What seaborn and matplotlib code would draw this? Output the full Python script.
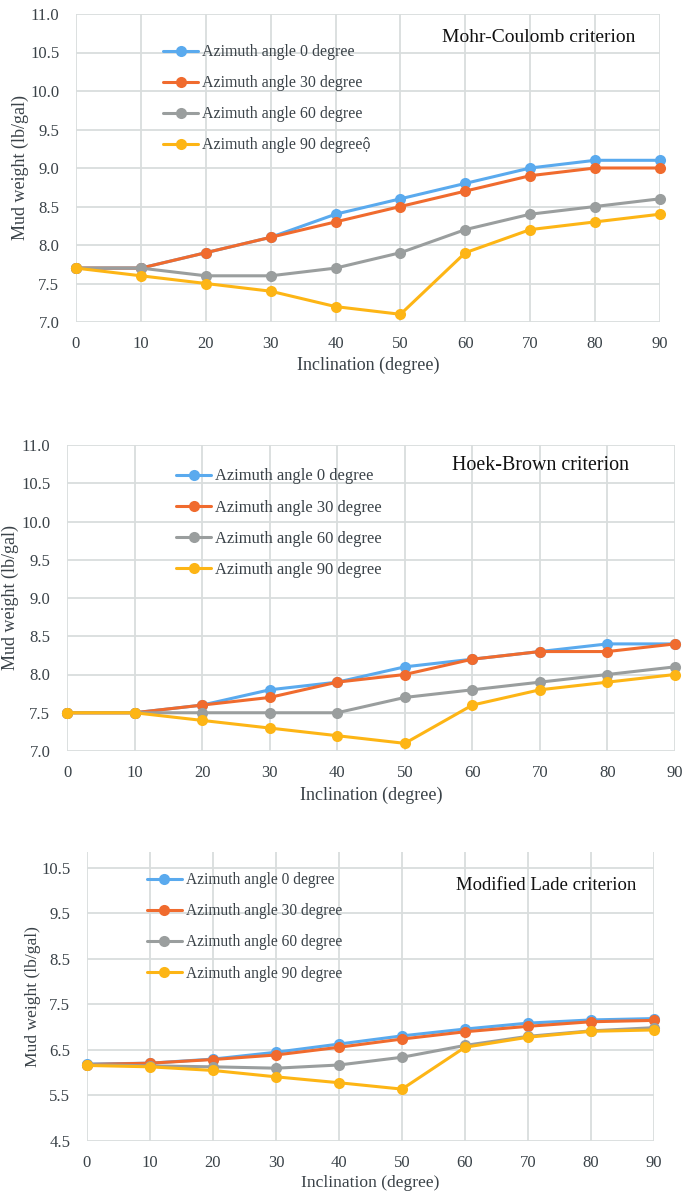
import numpy as np
import pandas as pd
import matplotlib
matplotlib.use("Agg")
import matplotlib.pyplot as plt
import seaborn as sns

# ---------------- DATA ----------------
inclination = [0, 10, 20, 30, 40, 50, 60, 70, 80, 90]
series_names = ["Azimuth angle 0 degree", "Azimuth angle 30 degree",
                "Azimuth angle 60 degree", "Azimuth angle 90 degree"]

# Mohr-Coulomb
mc_az0 = [7.7, 7.7, 7.9, 8.1, 8.4, 8.6, 8.8, 9.0, 9.1, 9.1]
mc_az30 = [7.7, 7.7, 7.9, 8.1, 8.3, 8.5, 8.7, 8.9, 9.0, 9.0]
mc_az60 = [7.7, 7.7, 7.6, 7.6, 7.7, 7.9, 8.2, 8.4, 8.5, 8.6]
mc_az90 = [7.7, 7.6, 7.5, 7.4, 7.2, 7.1, 7.9, 8.2, 8.3, 8.4]

# Hoek-Brown
hb_az0 = [7.5, 7.5, 7.6, 7.8, 7.9, 8.1, 8.2, 8.3, 8.4, 8.4]
hb_az30 = [7.5, 7.5, 7.6, 7.7, 7.9, 8.0, 8.2, 8.3, 8.3, 8.4]
hb_az60 = [7.5, 7.5, 7.5, 7.5, 7.5, 7.7, 7.8, 7.9, 8.0, 8.1]
hb_az90 = [7.5, 7.5, 7.4, 7.3, 7.2, 7.1, 7.6, 7.8, 7.9, 8.0]

# Modified Lade
ml_az0 = [6.19, 6.21, 6.30, 6.45, 6.63, 6.81, 6.96, 7.09, 7.16, 7.19]
ml_az30 = [6.18, 6.21, 6.29, 6.39, 6.56, 6.74, 6.90, 7.02, 7.12, 7.15]
ml_az60 = [6.18, 6.15, 6.13, 6.10, 6.17, 6.34, 6.60, 6.80, 6.92, 6.99]
ml_az90 = [6.16, 6.13, 6.05, 5.91, 5.78, 5.64, 6.56, 6.78, 6.91, 6.94]

colors = ["#5AAAEE", "#F06B2E", "#9A9E9E", "#FDB515"]
text_color = "#3A4248"

# ---------------- STYLE ----------------
sns.set_theme(style="white")
plt.rcParams["font.family"] = ["Liberation Serif", "DejaVu Serif"]

fig = plt.figure(figsize=(6.85, 11.95), dpi=100)
W, H = 685, 1195

# layout in pixels: box=(left, right, top, bottom)
panels = [
    dict(vals=[mc_az0, mc_az30, mc_az60, mc_az90], box=(76, 660, 14, 322),
         ylim=(7.0, 11.0), yticks=np.arange(7.0, 11.01, 0.5),
         title="Mohr-Coulomb criterion", title_px=(539, 37), title_fs=14,
         labels=series_names[:3] + ["Azimuth angle 90 degreeộ"],
         leg_px=(163, 44.5), leg_fs=11.4, leg_sp=0.945,
         ylab_x=20, xlab_y=365, lab_fs=13),
    dict(vals=[hb_az0, hb_az30, hb_az60, hb_az90], box=(67, 675, 445, 751),
         ylim=(7.0, 11.0), yticks=np.arange(7.0, 11.01, 0.5),
         title="Hoek-Brown criterion", title_px=(541, 466), title_fs=14.4,
         labels=series_names,
         leg_px=(176, 468.5), leg_fs=11.85, leg_sp=0.915,
         ylab_x=10, xlab_y=795, lab_fs=13),
    dict(vals=[ml_az0, ml_az30, ml_az60, ml_az90], box=(87, 654, 852, 1141),
         ylim=(4.5, 10.85), yticks=np.arange(4.5, 10.51, 1.0),
         title="Modified Lade criterion", title_px=(546, 885), title_fs=13.5,
         labels=series_names,
         leg_px=(147, 872), leg_fs=11.2, leg_sp=0.98,
         ylab_x=33, xlab_y=1183, lab_fs=12.6),
]

for p in panels:
    left, right, top, bottom = p["box"]
    aw, ah = right - left, bottom - top
    ax = fig.add_axes([left / W, 1 - bottom / H, aw / W, ah / H])

    def to_ax(px, py):
        return (px - left) / aw, (bottom - py) / ah

    rows = []
    for name, vals in zip(series_names, p["vals"]):
        for x, v in zip(inclination, vals):
            rows.append({"Inclination": x, "Mud weight": v, "Series": name})
    df = pd.DataFrame(rows)
    sns.lineplot(data=df, x="Inclination", y="Mud weight", hue="Series",
                 hue_order=series_names, palette=colors, marker="o",
                 markersize=8, markeredgewidth=0, linewidth=2.2, ax=ax,
                 legend=False, clip_on=False)

    ax.set_xlim(0, 90)
    ax.set_ylim(*p["ylim"])
    ax.set_xticks(inclination)
    ax.set_yticks(p["yticks"])
    ax.set_yticklabels([f"{t:.1f}" for t in p["yticks"]])
    ax.grid(True, color="#D9DDDD", linewidth=1.3)
    ax.set_axisbelow(True)
    for s in ax.spines.values():
        s.set_visible(False)
    ax.tick_params(axis="x", length=0, labelsize=12, colors=text_color, pad=10)
    ax.tick_params(axis="y", length=0, labelsize=12, colors=text_color, pad=12)

    ax.set_xlabel("Inclination (degree)", fontsize=p["lab_fs"], color=text_color, va="center")
    ax.set_ylabel("Mud weight (lb/gal)", fontsize=p["lab_fs"], color=text_color, va="center")
    ax.xaxis.set_label_coords(0.5, to_ax(0, p["xlab_y"])[1])
    ax.yaxis.set_label_coords(to_ax(p["ylab_x"], 0)[0], 0.5)

    fs_px = p["leg_fs"] * 100 / 72
    handles = [plt.Line2D([], [], color=c, marker="o", markersize=8,
                          markeredgewidth=0, linewidth=2.2) for c in colors]
    ax.legend(handles, p["labels"], loc="upper left",
              bbox_to_anchor=to_ax(*p["leg_px"]), borderaxespad=0, borderpad=0,
              frameon=False, fontsize=p["leg_fs"], handlelength=35 / fs_px,
              handletextpad=0.25, labelspacing=p["leg_sp"], labelcolor=text_color)

    tx, ty = to_ax(*p["title_px"])
    ax.text(tx, ty, p["title"], transform=ax.transAxes, ha="center", va="center",
            fontsize=p["title_fs"], color="#111111")

fig.savefig("out.png", dpi=100)
